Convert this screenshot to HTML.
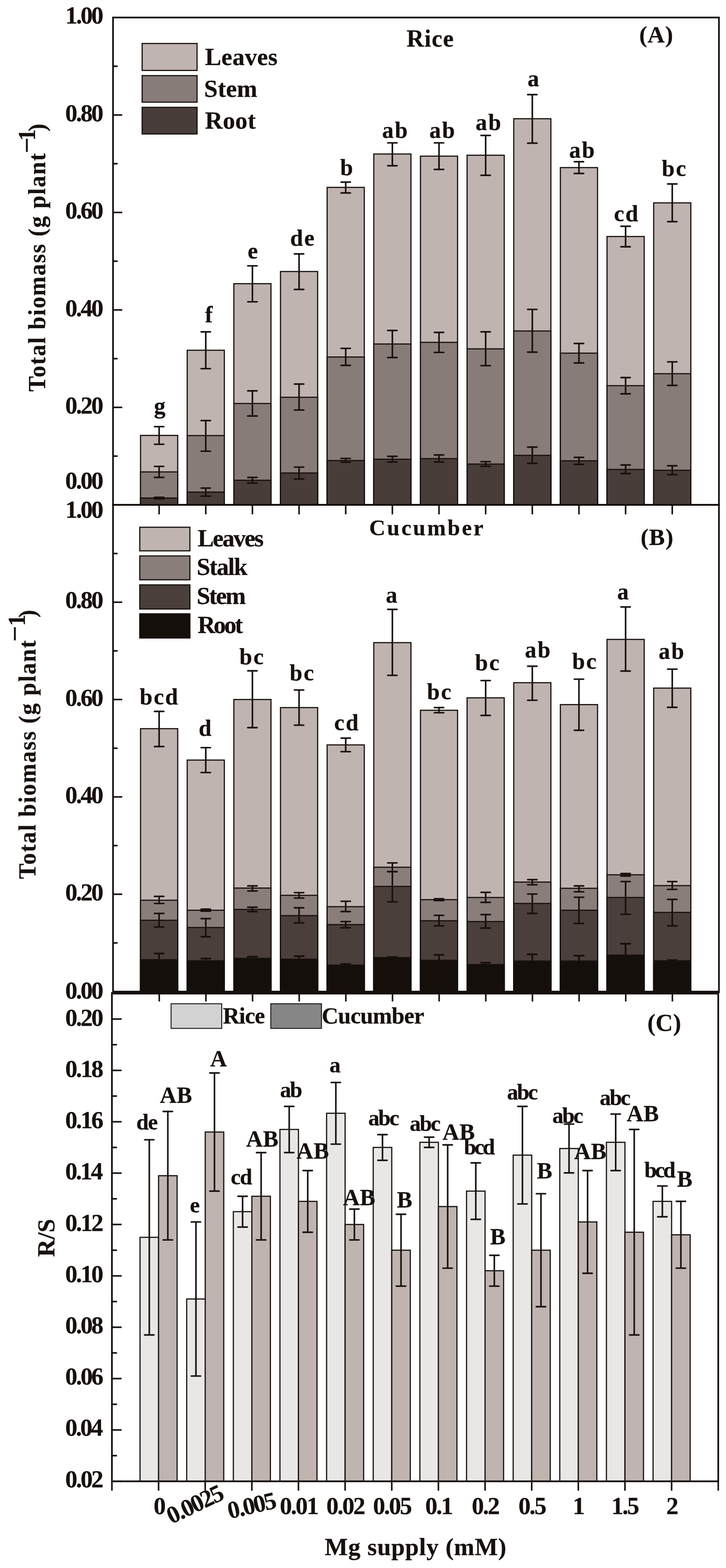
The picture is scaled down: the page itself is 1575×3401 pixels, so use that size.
<!DOCTYPE html>
<html><head><meta charset="utf-8"><title>Mg supply biomass</title>
<style>html,body{margin:0;padding:0;background:#fff;overflow:hidden}svg{display:block}text{font-family:"Liberation Serif", serif;fill:#17100d;white-space:pre;stroke:#17100d;stroke-width:0.3px;stroke-linejoin:round}</style>
</head><body>
<svg width="1575" height="3401" viewBox="0 0 1575 3401">
<rect width="1575" height="3401" fill="#ffffff"/>
<rect x="304.9" y="944.4" width="80.6" height="150.6" fill="#bfb4af" stroke="#17100d" stroke-width="2.5"/>
<rect x="304.9" y="1023.6" width="80.6" height="71.4" fill="#887c78" stroke="#17100d" stroke-width="2.5"/>
<rect x="304.9" y="1080.2" width="80.6" height="14.8" fill="#483d39" stroke="#17100d" stroke-width="2.5"/>
<line x1="345.2" y1="925.4" x2="345.2" y2="963.6" stroke="#17100d" stroke-width="3.4" stroke-linecap="butt"/>
<line x1="335.1" y1="925.4" x2="355.3" y2="925.4" stroke="#17100d" stroke-width="3.4" stroke-linecap="round"/>
<line x1="335.1" y1="963.6" x2="355.3" y2="963.6" stroke="#17100d" stroke-width="3.4" stroke-linecap="round"/>
<line x1="345.2" y1="1011.6" x2="345.2" y2="1035.5" stroke="#17100d" stroke-width="3.4" stroke-linecap="butt"/>
<line x1="335.1" y1="1011.6" x2="355.3" y2="1011.6" stroke="#17100d" stroke-width="3.4" stroke-linecap="round"/>
<line x1="335.1" y1="1035.5" x2="355.3" y2="1035.5" stroke="#17100d" stroke-width="3.4" stroke-linecap="round"/>
<line x1="345.2" y1="1078.6" x2="345.2" y2="1081.8" stroke="#17100d" stroke-width="3.4" stroke-linecap="butt"/>
<line x1="335.1" y1="1078.6" x2="355.3" y2="1078.6" stroke="#17100d" stroke-width="3.4" stroke-linecap="round"/>
<line x1="335.1" y1="1081.8" x2="355.3" y2="1081.8" stroke="#17100d" stroke-width="3.4" stroke-linecap="round"/>
<rect x="406.1" y="759.7" width="80.6" height="335.3" fill="#bfb4af" stroke="#17100d" stroke-width="2.5"/>
<rect x="406.1" y="944.8" width="80.6" height="150.2" fill="#887c78" stroke="#17100d" stroke-width="2.5"/>
<rect x="406.1" y="1067.3" width="80.6" height="27.7" fill="#483d39" stroke="#17100d" stroke-width="2.5"/>
<line x1="446.4" y1="719.8" x2="446.4" y2="799.6" stroke="#17100d" stroke-width="3.4" stroke-linecap="butt"/>
<line x1="436.3" y1="719.8" x2="456.5" y2="719.8" stroke="#17100d" stroke-width="3.4" stroke-linecap="round"/>
<line x1="436.3" y1="799.6" x2="456.5" y2="799.6" stroke="#17100d" stroke-width="3.4" stroke-linecap="round"/>
<line x1="446.4" y1="912.2" x2="446.4" y2="978.6" stroke="#17100d" stroke-width="3.4" stroke-linecap="butt"/>
<line x1="436.3" y1="912.2" x2="456.5" y2="912.2" stroke="#17100d" stroke-width="3.4" stroke-linecap="round"/>
<line x1="436.3" y1="978.6" x2="456.5" y2="978.6" stroke="#17100d" stroke-width="3.4" stroke-linecap="round"/>
<line x1="446.4" y1="1058.6" x2="446.4" y2="1076.1" stroke="#17100d" stroke-width="3.4" stroke-linecap="butt"/>
<line x1="436.3" y1="1058.6" x2="456.5" y2="1058.6" stroke="#17100d" stroke-width="3.4" stroke-linecap="round"/>
<line x1="436.3" y1="1076.1" x2="456.5" y2="1076.1" stroke="#17100d" stroke-width="3.4" stroke-linecap="round"/>
<rect x="507.3" y="615.3" width="80.6" height="479.7" fill="#bfb4af" stroke="#17100d" stroke-width="2.5"/>
<rect x="507.3" y="875.2" width="80.6" height="219.8" fill="#887c78" stroke="#17100d" stroke-width="2.5"/>
<rect x="507.3" y="1041.7" width="80.6" height="53.3" fill="#483d39" stroke="#17100d" stroke-width="2.5"/>
<line x1="547.6" y1="576.6" x2="547.6" y2="654.6" stroke="#17100d" stroke-width="3.4" stroke-linecap="butt"/>
<line x1="537.5" y1="576.6" x2="557.7" y2="576.6" stroke="#17100d" stroke-width="3.4" stroke-linecap="round"/>
<line x1="537.5" y1="654.6" x2="557.7" y2="654.6" stroke="#17100d" stroke-width="3.4" stroke-linecap="round"/>
<line x1="547.6" y1="847.7" x2="547.6" y2="902.3" stroke="#17100d" stroke-width="3.4" stroke-linecap="butt"/>
<line x1="537.5" y1="847.7" x2="557.7" y2="847.7" stroke="#17100d" stroke-width="3.4" stroke-linecap="round"/>
<line x1="537.5" y1="902.3" x2="557.7" y2="902.3" stroke="#17100d" stroke-width="3.4" stroke-linecap="round"/>
<line x1="547.6" y1="1035.5" x2="547.6" y2="1047.8" stroke="#17100d" stroke-width="3.4" stroke-linecap="butt"/>
<line x1="537.5" y1="1035.5" x2="557.7" y2="1035.5" stroke="#17100d" stroke-width="3.4" stroke-linecap="round"/>
<line x1="537.5" y1="1047.8" x2="557.7" y2="1047.8" stroke="#17100d" stroke-width="3.4" stroke-linecap="round"/>
<rect x="608.5" y="588.9" width="80.6" height="506.1" fill="#bfb4af" stroke="#17100d" stroke-width="2.5"/>
<rect x="608.5" y="861.7" width="80.6" height="233.3" fill="#887c78" stroke="#17100d" stroke-width="2.5"/>
<rect x="608.5" y="1025.9" width="80.6" height="69.1" fill="#483d39" stroke="#17100d" stroke-width="2.5"/>
<line x1="648.8" y1="550.8" x2="648.8" y2="627.7" stroke="#17100d" stroke-width="3.4" stroke-linecap="butt"/>
<line x1="638.7" y1="550.8" x2="658.9" y2="550.8" stroke="#17100d" stroke-width="3.4" stroke-linecap="round"/>
<line x1="638.7" y1="627.7" x2="658.9" y2="627.7" stroke="#17100d" stroke-width="3.4" stroke-linecap="round"/>
<line x1="648.8" y1="833.0" x2="648.8" y2="889.4" stroke="#17100d" stroke-width="3.4" stroke-linecap="butt"/>
<line x1="638.7" y1="833.0" x2="658.9" y2="833.0" stroke="#17100d" stroke-width="3.4" stroke-linecap="round"/>
<line x1="638.7" y1="889.4" x2="658.9" y2="889.4" stroke="#17100d" stroke-width="3.4" stroke-linecap="round"/>
<line x1="648.8" y1="1013.1" x2="648.8" y2="1039.0" stroke="#17100d" stroke-width="3.4" stroke-linecap="butt"/>
<line x1="638.7" y1="1013.1" x2="658.9" y2="1013.1" stroke="#17100d" stroke-width="3.4" stroke-linecap="round"/>
<line x1="638.7" y1="1039.0" x2="658.9" y2="1039.0" stroke="#17100d" stroke-width="3.4" stroke-linecap="round"/>
<rect x="709.7" y="406.4" width="80.6" height="688.6" fill="#bfb4af" stroke="#17100d" stroke-width="2.5"/>
<rect x="709.7" y="774.3" width="80.6" height="320.7" fill="#887c78" stroke="#17100d" stroke-width="2.5"/>
<rect x="709.7" y="998.9" width="80.6" height="96.1" fill="#483d39" stroke="#17100d" stroke-width="2.5"/>
<line x1="750.0" y1="395.0" x2="750.0" y2="418.5" stroke="#17100d" stroke-width="3.4" stroke-linecap="butt"/>
<line x1="739.9" y1="395.0" x2="760.1" y2="395.0" stroke="#17100d" stroke-width="3.4" stroke-linecap="round"/>
<line x1="739.9" y1="418.5" x2="760.1" y2="418.5" stroke="#17100d" stroke-width="3.4" stroke-linecap="round"/>
<line x1="750.0" y1="755.6" x2="750.0" y2="792.5" stroke="#17100d" stroke-width="3.4" stroke-linecap="butt"/>
<line x1="739.9" y1="755.6" x2="760.1" y2="755.6" stroke="#17100d" stroke-width="3.4" stroke-linecap="round"/>
<line x1="739.9" y1="792.5" x2="760.1" y2="792.5" stroke="#17100d" stroke-width="3.4" stroke-linecap="round"/>
<line x1="750.0" y1="994.4" x2="750.0" y2="1002.6" stroke="#17100d" stroke-width="3.4" stroke-linecap="butt"/>
<line x1="739.9" y1="994.4" x2="760.1" y2="994.4" stroke="#17100d" stroke-width="3.4" stroke-linecap="round"/>
<line x1="739.9" y1="1002.6" x2="760.1" y2="1002.6" stroke="#17100d" stroke-width="3.4" stroke-linecap="round"/>
<rect x="810.9" y="334.0" width="80.6" height="761.0" fill="#bfb4af" stroke="#17100d" stroke-width="2.5"/>
<rect x="810.9" y="746.1" width="80.6" height="348.9" fill="#887c78" stroke="#17100d" stroke-width="2.5"/>
<rect x="810.9" y="996.0" width="80.6" height="99.0" fill="#483d39" stroke="#17100d" stroke-width="2.5"/>
<line x1="851.2" y1="309.9" x2="851.2" y2="359.5" stroke="#17100d" stroke-width="3.4" stroke-linecap="butt"/>
<line x1="841.1" y1="309.9" x2="861.3" y2="309.9" stroke="#17100d" stroke-width="3.4" stroke-linecap="round"/>
<line x1="841.1" y1="359.5" x2="861.3" y2="359.5" stroke="#17100d" stroke-width="3.4" stroke-linecap="round"/>
<line x1="851.2" y1="716.8" x2="851.2" y2="775.5" stroke="#17100d" stroke-width="3.4" stroke-linecap="butt"/>
<line x1="841.1" y1="716.8" x2="861.3" y2="716.8" stroke="#17100d" stroke-width="3.4" stroke-linecap="round"/>
<line x1="841.1" y1="775.5" x2="861.3" y2="775.5" stroke="#17100d" stroke-width="3.4" stroke-linecap="round"/>
<line x1="851.2" y1="989.7" x2="851.2" y2="1002.0" stroke="#17100d" stroke-width="3.4" stroke-linecap="butt"/>
<line x1="841.1" y1="989.7" x2="861.3" y2="989.7" stroke="#17100d" stroke-width="3.4" stroke-linecap="round"/>
<line x1="841.1" y1="1002.0" x2="861.3" y2="1002.0" stroke="#17100d" stroke-width="3.4" stroke-linecap="round"/>
<rect x="912.1" y="338.7" width="80.6" height="756.3" fill="#bfb4af" stroke="#17100d" stroke-width="2.5"/>
<rect x="912.1" y="742.6" width="80.6" height="352.4" fill="#887c78" stroke="#17100d" stroke-width="2.5"/>
<rect x="912.1" y="994.8" width="80.6" height="100.2" fill="#483d39" stroke="#17100d" stroke-width="2.5"/>
<line x1="952.4" y1="309.9" x2="952.4" y2="367.5" stroke="#17100d" stroke-width="3.4" stroke-linecap="butt"/>
<line x1="942.3" y1="309.9" x2="962.5" y2="309.9" stroke="#17100d" stroke-width="3.4" stroke-linecap="round"/>
<line x1="942.3" y1="367.5" x2="962.5" y2="367.5" stroke="#17100d" stroke-width="3.4" stroke-linecap="round"/>
<line x1="952.4" y1="721.0" x2="952.4" y2="764.4" stroke="#17100d" stroke-width="3.4" stroke-linecap="butt"/>
<line x1="942.3" y1="721.0" x2="962.5" y2="721.0" stroke="#17100d" stroke-width="3.4" stroke-linecap="round"/>
<line x1="942.3" y1="764.4" x2="962.5" y2="764.4" stroke="#17100d" stroke-width="3.4" stroke-linecap="round"/>
<line x1="952.4" y1="986.7" x2="952.4" y2="1002.0" stroke="#17100d" stroke-width="3.4" stroke-linecap="butt"/>
<line x1="942.3" y1="986.7" x2="962.5" y2="986.7" stroke="#17100d" stroke-width="3.4" stroke-linecap="round"/>
<line x1="942.3" y1="1002.0" x2="962.5" y2="1002.0" stroke="#17100d" stroke-width="3.4" stroke-linecap="round"/>
<rect x="1013.3" y="336.7" width="80.6" height="758.3" fill="#bfb4af" stroke="#17100d" stroke-width="2.5"/>
<rect x="1013.3" y="756.7" width="80.6" height="338.3" fill="#887c78" stroke="#17100d" stroke-width="2.5"/>
<rect x="1013.3" y="1006.5" width="80.6" height="88.5" fill="#483d39" stroke="#17100d" stroke-width="2.5"/>
<line x1="1053.6" y1="293.8" x2="1053.6" y2="380.3" stroke="#17100d" stroke-width="3.4" stroke-linecap="butt"/>
<line x1="1043.5" y1="293.8" x2="1063.7" y2="293.8" stroke="#17100d" stroke-width="3.4" stroke-linecap="round"/>
<line x1="1043.5" y1="380.3" x2="1063.7" y2="380.3" stroke="#17100d" stroke-width="3.4" stroke-linecap="round"/>
<line x1="1053.6" y1="719.8" x2="1053.6" y2="793.1" stroke="#17100d" stroke-width="3.4" stroke-linecap="butt"/>
<line x1="1043.5" y1="719.8" x2="1063.7" y2="719.8" stroke="#17100d" stroke-width="3.4" stroke-linecap="round"/>
<line x1="1043.5" y1="793.1" x2="1063.7" y2="793.1" stroke="#17100d" stroke-width="3.4" stroke-linecap="round"/>
<line x1="1053.6" y1="1001.4" x2="1053.6" y2="1011.4" stroke="#17100d" stroke-width="3.4" stroke-linecap="butt"/>
<line x1="1043.5" y1="1001.4" x2="1063.7" y2="1001.4" stroke="#17100d" stroke-width="3.4" stroke-linecap="round"/>
<line x1="1043.5" y1="1011.4" x2="1063.7" y2="1011.4" stroke="#17100d" stroke-width="3.4" stroke-linecap="round"/>
<rect x="1114.5" y="257.5" width="80.6" height="837.5" fill="#bfb4af" stroke="#17100d" stroke-width="2.5"/>
<rect x="1114.5" y="717.9" width="80.6" height="377.1" fill="#887c78" stroke="#17100d" stroke-width="2.5"/>
<rect x="1114.5" y="987.7" width="80.6" height="107.3" fill="#483d39" stroke="#17100d" stroke-width="2.5"/>
<line x1="1154.8" y1="205.2" x2="1154.8" y2="310.5" stroke="#17100d" stroke-width="3.4" stroke-linecap="butt"/>
<line x1="1144.7" y1="205.2" x2="1164.9" y2="205.2" stroke="#17100d" stroke-width="3.4" stroke-linecap="round"/>
<line x1="1144.7" y1="310.5" x2="1164.9" y2="310.5" stroke="#17100d" stroke-width="3.4" stroke-linecap="round"/>
<line x1="1154.8" y1="671.1" x2="1154.8" y2="763.8" stroke="#17100d" stroke-width="3.4" stroke-linecap="butt"/>
<line x1="1144.7" y1="671.1" x2="1164.9" y2="671.1" stroke="#17100d" stroke-width="3.4" stroke-linecap="round"/>
<line x1="1144.7" y1="763.8" x2="1164.9" y2="763.8" stroke="#17100d" stroke-width="3.4" stroke-linecap="round"/>
<line x1="1154.8" y1="969.7" x2="1154.8" y2="1005.0" stroke="#17100d" stroke-width="3.4" stroke-linecap="butt"/>
<line x1="1144.7" y1="969.7" x2="1164.9" y2="969.7" stroke="#17100d" stroke-width="3.4" stroke-linecap="round"/>
<line x1="1144.7" y1="1005.0" x2="1164.9" y2="1005.0" stroke="#17100d" stroke-width="3.4" stroke-linecap="round"/>
<rect x="1215.7" y="363.5" width="80.6" height="731.5" fill="#bfb4af" stroke="#17100d" stroke-width="2.5"/>
<rect x="1215.7" y="766.0" width="80.6" height="329.0" fill="#887c78" stroke="#17100d" stroke-width="2.5"/>
<rect x="1215.7" y="999.5" width="80.6" height="95.5" fill="#483d39" stroke="#17100d" stroke-width="2.5"/>
<line x1="1256.0" y1="350.8" x2="1256.0" y2="376.3" stroke="#17100d" stroke-width="3.4" stroke-linecap="butt"/>
<line x1="1245.9" y1="350.8" x2="1266.1" y2="350.8" stroke="#17100d" stroke-width="3.4" stroke-linecap="round"/>
<line x1="1245.9" y1="376.3" x2="1266.1" y2="376.3" stroke="#17100d" stroke-width="3.4" stroke-linecap="round"/>
<line x1="1256.0" y1="745.0" x2="1256.0" y2="787.3" stroke="#17100d" stroke-width="3.4" stroke-linecap="butt"/>
<line x1="1245.9" y1="745.0" x2="1266.1" y2="745.0" stroke="#17100d" stroke-width="3.4" stroke-linecap="round"/>
<line x1="1245.9" y1="787.3" x2="1266.1" y2="787.3" stroke="#17100d" stroke-width="3.4" stroke-linecap="round"/>
<line x1="1256.0" y1="992.0" x2="1256.0" y2="1007.3" stroke="#17100d" stroke-width="3.4" stroke-linecap="butt"/>
<line x1="1245.9" y1="992.0" x2="1266.1" y2="992.0" stroke="#17100d" stroke-width="3.4" stroke-linecap="round"/>
<line x1="1245.9" y1="1007.3" x2="1266.1" y2="1007.3" stroke="#17100d" stroke-width="3.4" stroke-linecap="round"/>
<rect x="1316.9" y="513.0" width="80.6" height="582.0" fill="#bfb4af" stroke="#17100d" stroke-width="2.5"/>
<rect x="1316.9" y="836.5" width="80.6" height="258.5" fill="#887c78" stroke="#17100d" stroke-width="2.5"/>
<rect x="1316.9" y="1018.2" width="80.6" height="76.8" fill="#483d39" stroke="#17100d" stroke-width="2.5"/>
<line x1="1357.2" y1="490.7" x2="1357.2" y2="535.3" stroke="#17100d" stroke-width="3.4" stroke-linecap="butt"/>
<line x1="1347.1" y1="490.7" x2="1367.3" y2="490.7" stroke="#17100d" stroke-width="3.4" stroke-linecap="round"/>
<line x1="1347.1" y1="535.3" x2="1367.3" y2="535.3" stroke="#17100d" stroke-width="3.4" stroke-linecap="round"/>
<line x1="1357.2" y1="819.0" x2="1357.2" y2="854.2" stroke="#17100d" stroke-width="3.4" stroke-linecap="butt"/>
<line x1="1347.1" y1="819.0" x2="1367.3" y2="819.0" stroke="#17100d" stroke-width="3.4" stroke-linecap="round"/>
<line x1="1347.1" y1="854.2" x2="1367.3" y2="854.2" stroke="#17100d" stroke-width="3.4" stroke-linecap="round"/>
<line x1="1357.2" y1="1008.5" x2="1357.2" y2="1027.2" stroke="#17100d" stroke-width="3.4" stroke-linecap="butt"/>
<line x1="1347.1" y1="1008.5" x2="1367.3" y2="1008.5" stroke="#17100d" stroke-width="3.4" stroke-linecap="round"/>
<line x1="1347.1" y1="1027.2" x2="1367.3" y2="1027.2" stroke="#17100d" stroke-width="3.4" stroke-linecap="round"/>
<rect x="1418.1" y="440.0" width="80.6" height="655.0" fill="#bfb4af" stroke="#17100d" stroke-width="2.5"/>
<rect x="1418.1" y="810.6" width="80.6" height="284.4" fill="#887c78" stroke="#17100d" stroke-width="2.5"/>
<rect x="1418.1" y="1020.0" width="80.6" height="75.0" fill="#483d39" stroke="#17100d" stroke-width="2.5"/>
<line x1="1458.4" y1="399.0" x2="1458.4" y2="480.7" stroke="#17100d" stroke-width="3.4" stroke-linecap="butt"/>
<line x1="1448.3" y1="399.0" x2="1468.5" y2="399.0" stroke="#17100d" stroke-width="3.4" stroke-linecap="round"/>
<line x1="1448.3" y1="480.7" x2="1468.5" y2="480.7" stroke="#17100d" stroke-width="3.4" stroke-linecap="round"/>
<line x1="1458.4" y1="784.9" x2="1458.4" y2="836.0" stroke="#17100d" stroke-width="3.4" stroke-linecap="butt"/>
<line x1="1448.3" y1="784.9" x2="1468.5" y2="784.9" stroke="#17100d" stroke-width="3.4" stroke-linecap="round"/>
<line x1="1448.3" y1="836.0" x2="1468.5" y2="836.0" stroke="#17100d" stroke-width="3.4" stroke-linecap="round"/>
<line x1="1458.4" y1="1010.2" x2="1458.4" y2="1029.6" stroke="#17100d" stroke-width="3.4" stroke-linecap="butt"/>
<line x1="1448.3" y1="1010.2" x2="1468.5" y2="1010.2" stroke="#17100d" stroke-width="3.4" stroke-linecap="round"/>
<line x1="1448.3" y1="1029.6" x2="1468.5" y2="1029.6" stroke="#17100d" stroke-width="3.4" stroke-linecap="round"/>
<rect x="304.9" y="1580.5" width="80.6" height="570.3" fill="#bfb4af" stroke="#17100d" stroke-width="2.5"/>
<rect x="304.9" y="1952.6" width="80.6" height="198.2" fill="#8a7e7a" stroke="#17100d" stroke-width="2.5"/>
<rect x="304.9" y="1996.0" width="80.6" height="154.8" fill="#4a3f3b" stroke="#17100d" stroke-width="2.5"/>
<line x1="345.2" y1="2068.1" x2="345.2" y2="2083.6" stroke="#17100d" stroke-width="3.4" stroke-linecap="butt"/>
<line x1="335.1" y1="2068.1" x2="355.3" y2="2068.1" stroke="#17100d" stroke-width="3.4" stroke-linecap="round"/>
<rect x="304.9" y="2081.6" width="80.6" height="69.2" fill="#150f0c" stroke="#17100d" stroke-width="2.5"/>
<line x1="345.2" y1="2068.1" x2="345.2" y2="2081.6" stroke="#17100d" stroke-width="3.4" stroke-linecap="butt"/>
<line x1="335.1" y1="2068.1" x2="355.3" y2="2068.1" stroke="#17100d" stroke-width="3.4" stroke-linecap="round"/>
<line x1="345.2" y1="1543.0" x2="345.2" y2="1619.2" stroke="#17100d" stroke-width="3.4" stroke-linecap="butt"/>
<line x1="335.1" y1="1543.0" x2="355.3" y2="1543.0" stroke="#17100d" stroke-width="3.4" stroke-linecap="round"/>
<line x1="335.1" y1="1619.2" x2="355.3" y2="1619.2" stroke="#17100d" stroke-width="3.4" stroke-linecap="round"/>
<line x1="345.2" y1="1944.3" x2="345.2" y2="1959.6" stroke="#17100d" stroke-width="3.4" stroke-linecap="butt"/>
<line x1="335.1" y1="1944.3" x2="355.3" y2="1944.3" stroke="#17100d" stroke-width="3.4" stroke-linecap="round"/>
<line x1="335.1" y1="1959.6" x2="355.3" y2="1959.6" stroke="#17100d" stroke-width="3.4" stroke-linecap="round"/>
<line x1="345.2" y1="1981.3" x2="345.2" y2="2010.6" stroke="#17100d" stroke-width="3.4" stroke-linecap="butt"/>
<line x1="335.1" y1="1981.3" x2="355.3" y2="1981.3" stroke="#17100d" stroke-width="3.4" stroke-linecap="round"/>
<line x1="335.1" y1="2010.6" x2="355.3" y2="2010.6" stroke="#17100d" stroke-width="3.4" stroke-linecap="round"/>
<rect x="406.1" y="1648.6" width="80.6" height="502.2" fill="#bfb4af" stroke="#17100d" stroke-width="2.5"/>
<rect x="406.1" y="1974.3" width="80.6" height="176.5" fill="#8a7e7a" stroke="#17100d" stroke-width="2.5"/>
<rect x="406.1" y="2011.8" width="80.6" height="139.0" fill="#4a3f3b" stroke="#17100d" stroke-width="2.5"/>
<line x1="446.4" y1="2079.3" x2="446.4" y2="2086.0" stroke="#17100d" stroke-width="3.4" stroke-linecap="butt"/>
<line x1="436.3" y1="2079.3" x2="456.5" y2="2079.3" stroke="#17100d" stroke-width="3.4" stroke-linecap="round"/>
<rect x="406.1" y="2084.0" width="80.6" height="66.8" fill="#150f0c" stroke="#17100d" stroke-width="2.5"/>
<line x1="446.4" y1="2079.3" x2="446.4" y2="2084.0" stroke="#17100d" stroke-width="3.4" stroke-linecap="butt"/>
<line x1="436.3" y1="2079.3" x2="456.5" y2="2079.3" stroke="#17100d" stroke-width="3.4" stroke-linecap="round"/>
<line x1="446.4" y1="1621.6" x2="446.4" y2="1675.6" stroke="#17100d" stroke-width="3.4" stroke-linecap="butt"/>
<line x1="436.3" y1="1621.6" x2="456.5" y2="1621.6" stroke="#17100d" stroke-width="3.4" stroke-linecap="round"/>
<line x1="436.3" y1="1675.6" x2="456.5" y2="1675.6" stroke="#17100d" stroke-width="3.4" stroke-linecap="round"/>
<line x1="446.4" y1="1972.0" x2="446.4" y2="1976.4" stroke="#17100d" stroke-width="3.4" stroke-linecap="butt"/>
<line x1="436.3" y1="1972.0" x2="456.5" y2="1972.0" stroke="#17100d" stroke-width="3.4" stroke-linecap="round"/>
<line x1="436.3" y1="1976.4" x2="456.5" y2="1976.4" stroke="#17100d" stroke-width="3.4" stroke-linecap="round"/>
<line x1="446.4" y1="1992.5" x2="446.4" y2="2031.8" stroke="#17100d" stroke-width="3.4" stroke-linecap="butt"/>
<line x1="436.3" y1="1992.5" x2="456.5" y2="1992.5" stroke="#17100d" stroke-width="3.4" stroke-linecap="round"/>
<line x1="436.3" y1="2031.8" x2="456.5" y2="2031.8" stroke="#17100d" stroke-width="3.4" stroke-linecap="round"/>
<rect x="507.3" y="1517.2" width="80.6" height="633.6" fill="#bfb4af" stroke="#17100d" stroke-width="2.5"/>
<rect x="507.3" y="1926.2" width="80.6" height="224.6" fill="#8a7e7a" stroke="#17100d" stroke-width="2.5"/>
<rect x="507.3" y="1972.5" width="80.6" height="178.3" fill="#4a3f3b" stroke="#17100d" stroke-width="2.5"/>
<line x1="547.6" y1="2075.2" x2="547.6" y2="2080.7" stroke="#17100d" stroke-width="3.4" stroke-linecap="butt"/>
<line x1="537.5" y1="2075.2" x2="557.7" y2="2075.2" stroke="#17100d" stroke-width="3.4" stroke-linecap="round"/>
<rect x="507.3" y="2078.7" width="80.6" height="72.1" fill="#150f0c" stroke="#17100d" stroke-width="2.5"/>
<line x1="547.6" y1="2075.2" x2="547.6" y2="2078.7" stroke="#17100d" stroke-width="3.4" stroke-linecap="butt"/>
<line x1="537.5" y1="2075.2" x2="557.7" y2="2075.2" stroke="#17100d" stroke-width="3.4" stroke-linecap="round"/>
<line x1="547.6" y1="1455.0" x2="547.6" y2="1578.2" stroke="#17100d" stroke-width="3.4" stroke-linecap="butt"/>
<line x1="537.5" y1="1455.0" x2="557.7" y2="1455.0" stroke="#17100d" stroke-width="3.4" stroke-linecap="round"/>
<line x1="537.5" y1="1578.2" x2="557.7" y2="1578.2" stroke="#17100d" stroke-width="3.4" stroke-linecap="round"/>
<line x1="547.6" y1="1921.5" x2="547.6" y2="1932.6" stroke="#17100d" stroke-width="3.4" stroke-linecap="butt"/>
<line x1="537.5" y1="1921.5" x2="557.7" y2="1921.5" stroke="#17100d" stroke-width="3.4" stroke-linecap="round"/>
<line x1="537.5" y1="1932.6" x2="557.7" y2="1932.6" stroke="#17100d" stroke-width="3.4" stroke-linecap="round"/>
<line x1="547.6" y1="1967.8" x2="547.6" y2="1977.2" stroke="#17100d" stroke-width="3.4" stroke-linecap="butt"/>
<line x1="537.5" y1="1967.8" x2="557.7" y2="1967.8" stroke="#17100d" stroke-width="3.4" stroke-linecap="round"/>
<line x1="537.5" y1="1977.2" x2="557.7" y2="1977.2" stroke="#17100d" stroke-width="3.4" stroke-linecap="round"/>
<rect x="608.5" y="1534.8" width="80.6" height="616.0" fill="#bfb4af" stroke="#17100d" stroke-width="2.5"/>
<rect x="608.5" y="1942.0" width="80.6" height="208.8" fill="#8a7e7a" stroke="#17100d" stroke-width="2.5"/>
<rect x="608.5" y="1986.0" width="80.6" height="164.8" fill="#4a3f3b" stroke="#17100d" stroke-width="2.5"/>
<line x1="648.8" y1="2074.0" x2="648.8" y2="2082.5" stroke="#17100d" stroke-width="3.4" stroke-linecap="butt"/>
<line x1="638.7" y1="2074.0" x2="658.9" y2="2074.0" stroke="#17100d" stroke-width="3.4" stroke-linecap="round"/>
<rect x="608.5" y="2080.5" width="80.6" height="70.3" fill="#150f0c" stroke="#17100d" stroke-width="2.5"/>
<line x1="648.8" y1="2074.0" x2="648.8" y2="2080.5" stroke="#17100d" stroke-width="3.4" stroke-linecap="butt"/>
<line x1="638.7" y1="2074.0" x2="658.9" y2="2074.0" stroke="#17100d" stroke-width="3.4" stroke-linecap="round"/>
<line x1="648.8" y1="1496.6" x2="648.8" y2="1572.9" stroke="#17100d" stroke-width="3.4" stroke-linecap="butt"/>
<line x1="638.7" y1="1496.6" x2="658.9" y2="1496.6" stroke="#17100d" stroke-width="3.4" stroke-linecap="round"/>
<line x1="638.7" y1="1572.9" x2="658.9" y2="1572.9" stroke="#17100d" stroke-width="3.4" stroke-linecap="round"/>
<line x1="648.8" y1="1936.1" x2="648.8" y2="1947.9" stroke="#17100d" stroke-width="3.4" stroke-linecap="butt"/>
<line x1="638.7" y1="1936.1" x2="658.9" y2="1936.1" stroke="#17100d" stroke-width="3.4" stroke-linecap="round"/>
<line x1="638.7" y1="1947.9" x2="658.9" y2="1947.9" stroke="#17100d" stroke-width="3.4" stroke-linecap="round"/>
<line x1="648.8" y1="1969.0" x2="648.8" y2="2001.8" stroke="#17100d" stroke-width="3.4" stroke-linecap="butt"/>
<line x1="638.7" y1="1969.0" x2="658.9" y2="1969.0" stroke="#17100d" stroke-width="3.4" stroke-linecap="round"/>
<line x1="638.7" y1="2001.8" x2="658.9" y2="2001.8" stroke="#17100d" stroke-width="3.4" stroke-linecap="round"/>
<rect x="709.7" y="1615.7" width="80.6" height="535.1" fill="#bfb4af" stroke="#17100d" stroke-width="2.5"/>
<rect x="709.7" y="1966.6" width="80.6" height="184.2" fill="#8a7e7a" stroke="#17100d" stroke-width="2.5"/>
<rect x="709.7" y="2005.4" width="80.6" height="145.4" fill="#4a3f3b" stroke="#17100d" stroke-width="2.5"/>
<line x1="750.0" y1="2091.0" x2="750.0" y2="2095.4" stroke="#17100d" stroke-width="3.4" stroke-linecap="butt"/>
<line x1="739.9" y1="2091.0" x2="760.1" y2="2091.0" stroke="#17100d" stroke-width="3.4" stroke-linecap="round"/>
<rect x="709.7" y="2093.4" width="80.6" height="57.4" fill="#150f0c" stroke="#17100d" stroke-width="2.5"/>
<line x1="750.0" y1="2091.0" x2="750.0" y2="2093.4" stroke="#17100d" stroke-width="3.4" stroke-linecap="butt"/>
<line x1="739.9" y1="2091.0" x2="760.1" y2="2091.0" stroke="#17100d" stroke-width="3.4" stroke-linecap="round"/>
<line x1="750.0" y1="1601.0" x2="750.0" y2="1630.4" stroke="#17100d" stroke-width="3.4" stroke-linecap="butt"/>
<line x1="739.9" y1="1601.0" x2="760.1" y2="1601.0" stroke="#17100d" stroke-width="3.4" stroke-linecap="round"/>
<line x1="739.9" y1="1630.4" x2="760.1" y2="1630.4" stroke="#17100d" stroke-width="3.4" stroke-linecap="round"/>
<line x1="750.0" y1="1954.9" x2="750.0" y2="1977.2" stroke="#17100d" stroke-width="3.4" stroke-linecap="butt"/>
<line x1="739.9" y1="1954.9" x2="760.1" y2="1954.9" stroke="#17100d" stroke-width="3.4" stroke-linecap="round"/>
<line x1="739.9" y1="1977.2" x2="760.1" y2="1977.2" stroke="#17100d" stroke-width="3.4" stroke-linecap="round"/>
<line x1="750.0" y1="1998.9" x2="750.0" y2="2012.4" stroke="#17100d" stroke-width="3.4" stroke-linecap="butt"/>
<line x1="739.9" y1="1998.9" x2="760.1" y2="1998.9" stroke="#17100d" stroke-width="3.4" stroke-linecap="round"/>
<line x1="739.9" y1="2012.4" x2="760.1" y2="2012.4" stroke="#17100d" stroke-width="3.4" stroke-linecap="round"/>
<rect x="810.9" y="1393.9" width="80.6" height="756.9" fill="#bfb4af" stroke="#17100d" stroke-width="2.5"/>
<rect x="810.9" y="1881.0" width="80.6" height="269.8" fill="#8a7e7a" stroke="#17100d" stroke-width="2.5"/>
<rect x="810.9" y="1922.6" width="80.6" height="228.2" fill="#4a3f3b" stroke="#17100d" stroke-width="2.5"/>
<line x1="851.2" y1="2075.8" x2="851.2" y2="2079.0" stroke="#17100d" stroke-width="3.4" stroke-linecap="butt"/>
<line x1="841.1" y1="2075.8" x2="861.3" y2="2075.8" stroke="#17100d" stroke-width="3.4" stroke-linecap="round"/>
<rect x="810.9" y="2077.0" width="80.6" height="73.8" fill="#150f0c" stroke="#17100d" stroke-width="2.5"/>
<line x1="851.2" y1="2075.8" x2="851.2" y2="2077.0" stroke="#17100d" stroke-width="3.4" stroke-linecap="butt"/>
<line x1="841.1" y1="2075.8" x2="861.3" y2="2075.8" stroke="#17100d" stroke-width="3.4" stroke-linecap="round"/>
<line x1="851.2" y1="1321.8" x2="851.2" y2="1464.9" stroke="#17100d" stroke-width="3.4" stroke-linecap="butt"/>
<line x1="841.1" y1="1321.8" x2="861.3" y2="1321.8" stroke="#17100d" stroke-width="3.4" stroke-linecap="round"/>
<line x1="841.1" y1="1464.9" x2="861.3" y2="1464.9" stroke="#17100d" stroke-width="3.4" stroke-linecap="round"/>
<line x1="851.2" y1="1871.6" x2="851.2" y2="1890.9" stroke="#17100d" stroke-width="3.4" stroke-linecap="butt"/>
<line x1="841.1" y1="1871.6" x2="861.3" y2="1871.6" stroke="#17100d" stroke-width="3.4" stroke-linecap="round"/>
<line x1="841.1" y1="1890.9" x2="861.3" y2="1890.9" stroke="#17100d" stroke-width="3.4" stroke-linecap="round"/>
<line x1="851.2" y1="1890.4" x2="851.2" y2="1956.1" stroke="#17100d" stroke-width="3.4" stroke-linecap="butt"/>
<line x1="841.1" y1="1890.4" x2="861.3" y2="1890.4" stroke="#17100d" stroke-width="3.4" stroke-linecap="round"/>
<line x1="841.1" y1="1956.1" x2="861.3" y2="1956.1" stroke="#17100d" stroke-width="3.4" stroke-linecap="round"/>
<rect x="912.1" y="1540.6" width="80.6" height="610.2" fill="#bfb4af" stroke="#17100d" stroke-width="2.5"/>
<rect x="912.1" y="1951.4" width="80.6" height="199.4" fill="#8a7e7a" stroke="#17100d" stroke-width="2.5"/>
<rect x="912.1" y="1997.1" width="80.6" height="153.7" fill="#4a3f3b" stroke="#17100d" stroke-width="2.5"/>
<line x1="952.4" y1="2071.1" x2="952.4" y2="2084.8" stroke="#17100d" stroke-width="3.4" stroke-linecap="butt"/>
<line x1="942.3" y1="2071.1" x2="962.5" y2="2071.1" stroke="#17100d" stroke-width="3.4" stroke-linecap="round"/>
<rect x="912.1" y="2082.8" width="80.6" height="68.0" fill="#150f0c" stroke="#17100d" stroke-width="2.5"/>
<line x1="952.4" y1="2071.1" x2="952.4" y2="2082.8" stroke="#17100d" stroke-width="3.4" stroke-linecap="butt"/>
<line x1="942.3" y1="2071.1" x2="962.5" y2="2071.1" stroke="#17100d" stroke-width="3.4" stroke-linecap="round"/>
<line x1="952.4" y1="1534.8" x2="952.4" y2="1545.9" stroke="#17100d" stroke-width="3.4" stroke-linecap="butt"/>
<line x1="942.3" y1="1534.8" x2="962.5" y2="1534.8" stroke="#17100d" stroke-width="3.4" stroke-linecap="round"/>
<line x1="942.3" y1="1545.9" x2="962.5" y2="1545.9" stroke="#17100d" stroke-width="3.4" stroke-linecap="round"/>
<line x1="952.4" y1="1949.4" x2="952.4" y2="1953.4" stroke="#17100d" stroke-width="3.4" stroke-linecap="butt"/>
<line x1="942.3" y1="1949.4" x2="962.5" y2="1949.4" stroke="#17100d" stroke-width="3.4" stroke-linecap="round"/>
<line x1="942.3" y1="1953.4" x2="962.5" y2="1953.4" stroke="#17100d" stroke-width="3.4" stroke-linecap="round"/>
<line x1="952.4" y1="1985.4" x2="952.4" y2="2008.3" stroke="#17100d" stroke-width="3.4" stroke-linecap="butt"/>
<line x1="942.3" y1="1985.4" x2="962.5" y2="1985.4" stroke="#17100d" stroke-width="3.4" stroke-linecap="round"/>
<line x1="942.3" y1="2008.3" x2="962.5" y2="2008.3" stroke="#17100d" stroke-width="3.4" stroke-linecap="round"/>
<rect x="1013.3" y="1513.6" width="80.6" height="637.2" fill="#bfb4af" stroke="#17100d" stroke-width="2.5"/>
<rect x="1013.3" y="1946.7" width="80.6" height="204.1" fill="#8a7e7a" stroke="#17100d" stroke-width="2.5"/>
<rect x="1013.3" y="1998.9" width="80.6" height="151.9" fill="#4a3f3b" stroke="#17100d" stroke-width="2.5"/>
<line x1="1053.6" y1="2088.1" x2="1053.6" y2="2094.2" stroke="#17100d" stroke-width="3.4" stroke-linecap="butt"/>
<line x1="1043.5" y1="2088.1" x2="1063.7" y2="2088.1" stroke="#17100d" stroke-width="3.4" stroke-linecap="round"/>
<rect x="1013.3" y="2092.2" width="80.6" height="58.6" fill="#150f0c" stroke="#17100d" stroke-width="2.5"/>
<line x1="1053.6" y1="2088.1" x2="1053.6" y2="2092.2" stroke="#17100d" stroke-width="3.4" stroke-linecap="butt"/>
<line x1="1043.5" y1="2088.1" x2="1063.7" y2="2088.1" stroke="#17100d" stroke-width="3.4" stroke-linecap="round"/>
<line x1="1053.6" y1="1476.1" x2="1053.6" y2="1551.8" stroke="#17100d" stroke-width="3.4" stroke-linecap="butt"/>
<line x1="1043.5" y1="1476.1" x2="1063.7" y2="1476.1" stroke="#17100d" stroke-width="3.4" stroke-linecap="round"/>
<line x1="1043.5" y1="1551.8" x2="1063.7" y2="1551.8" stroke="#17100d" stroke-width="3.4" stroke-linecap="round"/>
<line x1="1053.6" y1="1935.5" x2="1053.6" y2="1957.2" stroke="#17100d" stroke-width="3.4" stroke-linecap="butt"/>
<line x1="1043.5" y1="1935.5" x2="1063.7" y2="1935.5" stroke="#17100d" stroke-width="3.4" stroke-linecap="round"/>
<line x1="1043.5" y1="1957.2" x2="1063.7" y2="1957.2" stroke="#17100d" stroke-width="3.4" stroke-linecap="round"/>
<line x1="1053.6" y1="1983.7" x2="1053.6" y2="2013.0" stroke="#17100d" stroke-width="3.4" stroke-linecap="butt"/>
<line x1="1043.5" y1="1983.7" x2="1063.7" y2="1983.7" stroke="#17100d" stroke-width="3.4" stroke-linecap="round"/>
<line x1="1043.5" y1="2013.0" x2="1063.7" y2="2013.0" stroke="#17100d" stroke-width="3.4" stroke-linecap="round"/>
<rect x="1114.5" y="1480.8" width="80.6" height="670.0" fill="#bfb4af" stroke="#17100d" stroke-width="2.5"/>
<rect x="1114.5" y="1913.2" width="80.6" height="237.6" fill="#8a7e7a" stroke="#17100d" stroke-width="2.5"/>
<rect x="1114.5" y="1959.6" width="80.6" height="191.2" fill="#4a3f3b" stroke="#17100d" stroke-width="2.5"/>
<line x1="1154.8" y1="2069.9" x2="1154.8" y2="2086.6" stroke="#17100d" stroke-width="3.4" stroke-linecap="butt"/>
<line x1="1144.7" y1="2069.9" x2="1164.9" y2="2069.9" stroke="#17100d" stroke-width="3.4" stroke-linecap="round"/>
<rect x="1114.5" y="2084.6" width="80.6" height="66.2" fill="#150f0c" stroke="#17100d" stroke-width="2.5"/>
<line x1="1154.8" y1="2069.9" x2="1154.8" y2="2084.6" stroke="#17100d" stroke-width="3.4" stroke-linecap="butt"/>
<line x1="1144.7" y1="2069.9" x2="1164.9" y2="2069.9" stroke="#17100d" stroke-width="3.4" stroke-linecap="round"/>
<line x1="1154.8" y1="1445.0" x2="1154.8" y2="1518.9" stroke="#17100d" stroke-width="3.4" stroke-linecap="butt"/>
<line x1="1144.7" y1="1445.0" x2="1164.9" y2="1445.0" stroke="#17100d" stroke-width="3.4" stroke-linecap="round"/>
<line x1="1144.7" y1="1518.9" x2="1164.9" y2="1518.9" stroke="#17100d" stroke-width="3.4" stroke-linecap="round"/>
<line x1="1154.8" y1="1908.0" x2="1154.8" y2="1919.1" stroke="#17100d" stroke-width="3.4" stroke-linecap="butt"/>
<line x1="1144.7" y1="1908.0" x2="1164.9" y2="1908.0" stroke="#17100d" stroke-width="3.4" stroke-linecap="round"/>
<line x1="1144.7" y1="1919.1" x2="1164.9" y2="1919.1" stroke="#17100d" stroke-width="3.4" stroke-linecap="round"/>
<line x1="1154.8" y1="1939.1" x2="1154.8" y2="1981.3" stroke="#17100d" stroke-width="3.4" stroke-linecap="butt"/>
<line x1="1144.7" y1="1939.1" x2="1164.9" y2="1939.1" stroke="#17100d" stroke-width="3.4" stroke-linecap="round"/>
<line x1="1144.7" y1="1981.3" x2="1164.9" y2="1981.3" stroke="#17100d" stroke-width="3.4" stroke-linecap="round"/>
<rect x="1215.7" y="1528.3" width="80.6" height="622.5" fill="#bfb4af" stroke="#17100d" stroke-width="2.5"/>
<rect x="1215.7" y="1926.7" width="80.6" height="224.1" fill="#8a7e7a" stroke="#17100d" stroke-width="2.5"/>
<rect x="1215.7" y="1974.3" width="80.6" height="176.5" fill="#4a3f3b" stroke="#17100d" stroke-width="2.5"/>
<line x1="1256.0" y1="2072.8" x2="1256.0" y2="2086.6" stroke="#17100d" stroke-width="3.4" stroke-linecap="butt"/>
<line x1="1245.9" y1="2072.8" x2="1266.1" y2="2072.8" stroke="#17100d" stroke-width="3.4" stroke-linecap="round"/>
<rect x="1215.7" y="2084.6" width="80.6" height="66.2" fill="#150f0c" stroke="#17100d" stroke-width="2.5"/>
<line x1="1256.0" y1="2072.8" x2="1256.0" y2="2084.6" stroke="#17100d" stroke-width="3.4" stroke-linecap="butt"/>
<line x1="1245.9" y1="2072.8" x2="1266.1" y2="2072.8" stroke="#17100d" stroke-width="3.4" stroke-linecap="round"/>
<line x1="1256.0" y1="1473.1" x2="1256.0" y2="1584.0" stroke="#17100d" stroke-width="3.4" stroke-linecap="butt"/>
<line x1="1245.9" y1="1473.1" x2="1266.1" y2="1473.1" stroke="#17100d" stroke-width="3.4" stroke-linecap="round"/>
<line x1="1245.9" y1="1584.0" x2="1266.1" y2="1584.0" stroke="#17100d" stroke-width="3.4" stroke-linecap="round"/>
<line x1="1256.0" y1="1921.5" x2="1256.0" y2="1934.4" stroke="#17100d" stroke-width="3.4" stroke-linecap="butt"/>
<line x1="1245.9" y1="1921.5" x2="1266.1" y2="1921.5" stroke="#17100d" stroke-width="3.4" stroke-linecap="round"/>
<line x1="1245.9" y1="1934.4" x2="1266.1" y2="1934.4" stroke="#17100d" stroke-width="3.4" stroke-linecap="round"/>
<line x1="1256.0" y1="1946.1" x2="1256.0" y2="2003.0" stroke="#17100d" stroke-width="3.4" stroke-linecap="butt"/>
<line x1="1245.9" y1="1946.1" x2="1266.1" y2="1946.1" stroke="#17100d" stroke-width="3.4" stroke-linecap="round"/>
<line x1="1245.9" y1="2003.0" x2="1266.1" y2="2003.0" stroke="#17100d" stroke-width="3.4" stroke-linecap="round"/>
<rect x="1316.9" y="1386.9" width="80.6" height="763.9" fill="#bfb4af" stroke="#17100d" stroke-width="2.5"/>
<rect x="1316.9" y="1897.4" width="80.6" height="253.4" fill="#8a7e7a" stroke="#17100d" stroke-width="2.5"/>
<rect x="1316.9" y="1946.7" width="80.6" height="204.1" fill="#4a3f3b" stroke="#17100d" stroke-width="2.5"/>
<line x1="1357.2" y1="2047.0" x2="1357.2" y2="2073.7" stroke="#17100d" stroke-width="3.4" stroke-linecap="butt"/>
<line x1="1347.1" y1="2047.0" x2="1367.3" y2="2047.0" stroke="#17100d" stroke-width="3.4" stroke-linecap="round"/>
<rect x="1316.9" y="2071.7" width="80.6" height="79.1" fill="#150f0c" stroke="#17100d" stroke-width="2.5"/>
<line x1="1357.2" y1="2047.0" x2="1357.2" y2="2071.7" stroke="#17100d" stroke-width="3.4" stroke-linecap="butt"/>
<line x1="1347.1" y1="2047.0" x2="1367.3" y2="2047.0" stroke="#17100d" stroke-width="3.4" stroke-linecap="round"/>
<line x1="1357.2" y1="1316.5" x2="1357.2" y2="1455.5" stroke="#17100d" stroke-width="3.4" stroke-linecap="butt"/>
<line x1="1347.1" y1="1316.5" x2="1367.3" y2="1316.5" stroke="#17100d" stroke-width="3.4" stroke-linecap="round"/>
<line x1="1347.1" y1="1455.5" x2="1367.3" y2="1455.5" stroke="#17100d" stroke-width="3.4" stroke-linecap="round"/>
<line x1="1357.2" y1="1894.8" x2="1357.2" y2="1900.0" stroke="#17100d" stroke-width="3.4" stroke-linecap="butt"/>
<line x1="1347.1" y1="1894.8" x2="1367.3" y2="1894.8" stroke="#17100d" stroke-width="3.4" stroke-linecap="round"/>
<line x1="1347.1" y1="1900.0" x2="1367.3" y2="1900.0" stroke="#17100d" stroke-width="3.4" stroke-linecap="round"/>
<line x1="1357.2" y1="1912.1" x2="1357.2" y2="1983.1" stroke="#17100d" stroke-width="3.4" stroke-linecap="butt"/>
<line x1="1347.1" y1="1912.1" x2="1367.3" y2="1912.1" stroke="#17100d" stroke-width="3.4" stroke-linecap="round"/>
<line x1="1347.1" y1="1983.1" x2="1367.3" y2="1983.1" stroke="#17100d" stroke-width="3.4" stroke-linecap="round"/>
<rect x="1418.1" y="1492.5" width="80.6" height="658.3" fill="#bfb4af" stroke="#17100d" stroke-width="2.5"/>
<rect x="1418.1" y="1920.9" width="80.6" height="229.9" fill="#8a7e7a" stroke="#17100d" stroke-width="2.5"/>
<rect x="1418.1" y="1979.0" width="80.6" height="171.8" fill="#4a3f3b" stroke="#17100d" stroke-width="2.5"/>
<line x1="1458.4" y1="2082.5" x2="1458.4" y2="2086.0" stroke="#17100d" stroke-width="3.4" stroke-linecap="butt"/>
<line x1="1448.3" y1="2082.5" x2="1468.5" y2="2082.5" stroke="#17100d" stroke-width="3.4" stroke-linecap="round"/>
<rect x="1418.1" y="2084.0" width="80.6" height="66.8" fill="#150f0c" stroke="#17100d" stroke-width="2.5"/>
<line x1="1458.4" y1="2082.5" x2="1458.4" y2="2084.0" stroke="#17100d" stroke-width="3.4" stroke-linecap="butt"/>
<line x1="1448.3" y1="2082.5" x2="1468.5" y2="2082.5" stroke="#17100d" stroke-width="3.4" stroke-linecap="round"/>
<line x1="1458.4" y1="1451.4" x2="1458.4" y2="1534.2" stroke="#17100d" stroke-width="3.4" stroke-linecap="butt"/>
<line x1="1448.3" y1="1451.4" x2="1468.5" y2="1451.4" stroke="#17100d" stroke-width="3.4" stroke-linecap="round"/>
<line x1="1448.3" y1="1534.2" x2="1468.5" y2="1534.2" stroke="#17100d" stroke-width="3.4" stroke-linecap="round"/>
<line x1="1458.4" y1="1912.1" x2="1458.4" y2="1929.1" stroke="#17100d" stroke-width="3.4" stroke-linecap="butt"/>
<line x1="1448.3" y1="1912.1" x2="1468.5" y2="1912.1" stroke="#17100d" stroke-width="3.4" stroke-linecap="round"/>
<line x1="1448.3" y1="1929.1" x2="1468.5" y2="1929.1" stroke="#17100d" stroke-width="3.4" stroke-linecap="round"/>
<line x1="1458.4" y1="1950.8" x2="1458.4" y2="2008.3" stroke="#17100d" stroke-width="3.4" stroke-linecap="butt"/>
<line x1="1448.3" y1="1950.8" x2="1468.5" y2="1950.8" stroke="#17100d" stroke-width="3.4" stroke-linecap="round"/>
<line x1="1448.3" y1="2008.3" x2="1468.5" y2="2008.3" stroke="#17100d" stroke-width="3.4" stroke-linecap="round"/>
<rect x="303.8" y="2683.8" width="40.2" height="529.2" fill="#e8e7e6" stroke="#17100d" stroke-width="2.5"/>
<rect x="344.0" y="2550.1" width="40.2" height="662.9" fill="#bfb4af" stroke="#17100d" stroke-width="2.5"/>
<line x1="323.9" y1="2472.1" x2="323.9" y2="2895.5" stroke="#17100d" stroke-width="3.4" stroke-linecap="butt"/>
<line x1="313.8" y1="2472.1" x2="334.0" y2="2472.1" stroke="#17100d" stroke-width="3.4" stroke-linecap="round"/>
<line x1="313.8" y1="2895.5" x2="334.0" y2="2895.5" stroke="#17100d" stroke-width="3.4" stroke-linecap="round"/>
<line x1="364.1" y1="2410.8" x2="364.1" y2="2689.4" stroke="#17100d" stroke-width="3.4" stroke-linecap="butt"/>
<line x1="354.0" y1="2410.8" x2="374.2" y2="2410.8" stroke="#17100d" stroke-width="3.4" stroke-linecap="round"/>
<line x1="354.0" y1="2689.4" x2="374.2" y2="2689.4" stroke="#17100d" stroke-width="3.4" stroke-linecap="round"/>
<rect x="405.0" y="2817.5" width="40.2" height="395.5" fill="#e8e7e6" stroke="#17100d" stroke-width="2.5"/>
<rect x="445.2" y="2455.4" width="40.2" height="757.6" fill="#bfb4af" stroke="#17100d" stroke-width="2.5"/>
<line x1="425.1" y1="2650.4" x2="425.1" y2="2984.6" stroke="#17100d" stroke-width="3.4" stroke-linecap="butt"/>
<line x1="415.0" y1="2650.4" x2="435.2" y2="2650.4" stroke="#17100d" stroke-width="3.4" stroke-linecap="round"/>
<line x1="415.0" y1="2984.6" x2="435.2" y2="2984.6" stroke="#17100d" stroke-width="3.4" stroke-linecap="round"/>
<line x1="465.3" y1="2327.3" x2="465.3" y2="2583.5" stroke="#17100d" stroke-width="3.4" stroke-linecap="butt"/>
<line x1="455.2" y1="2327.3" x2="475.4" y2="2327.3" stroke="#17100d" stroke-width="3.4" stroke-linecap="round"/>
<line x1="455.2" y1="2583.5" x2="475.4" y2="2583.5" stroke="#17100d" stroke-width="3.4" stroke-linecap="round"/>
<rect x="506.2" y="2628.1" width="40.2" height="584.9" fill="#e8e7e6" stroke="#17100d" stroke-width="2.5"/>
<rect x="546.4" y="2594.7" width="40.2" height="618.3" fill="#bfb4af" stroke="#17100d" stroke-width="2.5"/>
<line x1="526.3" y1="2594.7" x2="526.3" y2="2661.5" stroke="#17100d" stroke-width="3.4" stroke-linecap="butt"/>
<line x1="516.2" y1="2594.7" x2="536.4" y2="2594.7" stroke="#17100d" stroke-width="3.4" stroke-linecap="round"/>
<line x1="516.2" y1="2661.5" x2="536.4" y2="2661.5" stroke="#17100d" stroke-width="3.4" stroke-linecap="round"/>
<line x1="566.5" y1="2500.0" x2="566.5" y2="2689.4" stroke="#17100d" stroke-width="3.4" stroke-linecap="butt"/>
<line x1="556.4" y1="2500.0" x2="576.6" y2="2500.0" stroke="#17100d" stroke-width="3.4" stroke-linecap="round"/>
<line x1="556.4" y1="2689.4" x2="576.6" y2="2689.4" stroke="#17100d" stroke-width="3.4" stroke-linecap="round"/>
<rect x="607.3" y="2449.8" width="40.2" height="763.2" fill="#e8e7e6" stroke="#17100d" stroke-width="2.5"/>
<rect x="647.5" y="2605.8" width="40.2" height="607.2" fill="#bfb4af" stroke="#17100d" stroke-width="2.5"/>
<line x1="627.4" y1="2399.7" x2="627.4" y2="2500.0" stroke="#17100d" stroke-width="3.4" stroke-linecap="butt"/>
<line x1="617.3" y1="2399.7" x2="637.5" y2="2399.7" stroke="#17100d" stroke-width="3.4" stroke-linecap="round"/>
<line x1="617.3" y1="2500.0" x2="637.5" y2="2500.0" stroke="#17100d" stroke-width="3.4" stroke-linecap="round"/>
<line x1="667.6" y1="2539.0" x2="667.6" y2="2672.7" stroke="#17100d" stroke-width="3.4" stroke-linecap="butt"/>
<line x1="657.5" y1="2539.0" x2="677.7" y2="2539.0" stroke="#17100d" stroke-width="3.4" stroke-linecap="round"/>
<line x1="657.5" y1="2672.7" x2="677.7" y2="2672.7" stroke="#17100d" stroke-width="3.4" stroke-linecap="round"/>
<rect x="708.5" y="2414.7" width="40.2" height="798.3" fill="#e8e7e6" stroke="#17100d" stroke-width="2.5"/>
<rect x="748.7" y="2655.9" width="40.2" height="557.1" fill="#bfb4af" stroke="#17100d" stroke-width="2.5"/>
<line x1="728.6" y1="2347.9" x2="728.6" y2="2481.6" stroke="#17100d" stroke-width="3.4" stroke-linecap="butt"/>
<line x1="718.5" y1="2347.9" x2="738.7" y2="2347.9" stroke="#17100d" stroke-width="3.4" stroke-linecap="round"/>
<line x1="718.5" y1="2481.6" x2="738.7" y2="2481.6" stroke="#17100d" stroke-width="3.4" stroke-linecap="round"/>
<line x1="768.8" y1="2622.5" x2="768.8" y2="2689.4" stroke="#17100d" stroke-width="3.4" stroke-linecap="butt"/>
<line x1="758.7" y1="2622.5" x2="778.9" y2="2622.5" stroke="#17100d" stroke-width="3.4" stroke-linecap="round"/>
<line x1="758.7" y1="2689.4" x2="778.9" y2="2689.4" stroke="#17100d" stroke-width="3.4" stroke-linecap="round"/>
<rect x="809.7" y="2488.8" width="40.2" height="724.2" fill="#e8e7e6" stroke="#17100d" stroke-width="2.5"/>
<rect x="849.9" y="2711.7" width="40.2" height="501.3" fill="#bfb4af" stroke="#17100d" stroke-width="2.5"/>
<line x1="829.8" y1="2461.0" x2="829.8" y2="2516.7" stroke="#17100d" stroke-width="3.4" stroke-linecap="butt"/>
<line x1="819.7" y1="2461.0" x2="839.9" y2="2461.0" stroke="#17100d" stroke-width="3.4" stroke-linecap="round"/>
<line x1="819.7" y1="2516.7" x2="839.9" y2="2516.7" stroke="#17100d" stroke-width="3.4" stroke-linecap="round"/>
<line x1="870.0" y1="2633.7" x2="870.0" y2="2789.6" stroke="#17100d" stroke-width="3.4" stroke-linecap="butt"/>
<line x1="859.9" y1="2633.7" x2="880.1" y2="2633.7" stroke="#17100d" stroke-width="3.4" stroke-linecap="round"/>
<line x1="859.9" y1="2789.6" x2="880.1" y2="2789.6" stroke="#17100d" stroke-width="3.4" stroke-linecap="round"/>
<rect x="910.9" y="2477.7" width="40.2" height="735.3" fill="#e8e7e6" stroke="#17100d" stroke-width="2.5"/>
<rect x="951.1" y="2617.0" width="40.2" height="596.0" fill="#bfb4af" stroke="#17100d" stroke-width="2.5"/>
<line x1="931.0" y1="2466.5" x2="931.0" y2="2488.8" stroke="#17100d" stroke-width="3.4" stroke-linecap="butt"/>
<line x1="920.9" y1="2466.5" x2="941.1" y2="2466.5" stroke="#17100d" stroke-width="3.4" stroke-linecap="round"/>
<line x1="920.9" y1="2488.8" x2="941.1" y2="2488.8" stroke="#17100d" stroke-width="3.4" stroke-linecap="round"/>
<line x1="971.2" y1="2483.3" x2="971.2" y2="2750.6" stroke="#17100d" stroke-width="3.4" stroke-linecap="butt"/>
<line x1="961.1" y1="2483.3" x2="981.3" y2="2483.3" stroke="#17100d" stroke-width="3.4" stroke-linecap="round"/>
<line x1="961.1" y1="2750.6" x2="981.3" y2="2750.6" stroke="#17100d" stroke-width="3.4" stroke-linecap="round"/>
<rect x="1012.1" y="2583.5" width="40.2" height="629.5" fill="#e8e7e6" stroke="#17100d" stroke-width="2.5"/>
<rect x="1052.3" y="2756.2" width="40.2" height="456.8" fill="#bfb4af" stroke="#17100d" stroke-width="2.5"/>
<line x1="1032.2" y1="2522.3" x2="1032.2" y2="2644.8" stroke="#17100d" stroke-width="3.4" stroke-linecap="butt"/>
<line x1="1022.1" y1="2522.3" x2="1042.3" y2="2522.3" stroke="#17100d" stroke-width="3.4" stroke-linecap="round"/>
<line x1="1022.1" y1="2644.8" x2="1042.3" y2="2644.8" stroke="#17100d" stroke-width="3.4" stroke-linecap="round"/>
<line x1="1072.4" y1="2722.8" x2="1072.4" y2="2789.6" stroke="#17100d" stroke-width="3.4" stroke-linecap="butt"/>
<line x1="1062.3" y1="2722.8" x2="1082.5" y2="2722.8" stroke="#17100d" stroke-width="3.4" stroke-linecap="round"/>
<line x1="1062.3" y1="2789.6" x2="1082.5" y2="2789.6" stroke="#17100d" stroke-width="3.4" stroke-linecap="round"/>
<rect x="1113.3" y="2505.5" width="40.2" height="707.5" fill="#e8e7e6" stroke="#17100d" stroke-width="2.5"/>
<rect x="1153.5" y="2711.7" width="40.2" height="501.3" fill="#bfb4af" stroke="#17100d" stroke-width="2.5"/>
<line x1="1133.4" y1="2399.7" x2="1133.4" y2="2611.4" stroke="#17100d" stroke-width="3.4" stroke-linecap="butt"/>
<line x1="1123.3" y1="2399.7" x2="1143.5" y2="2399.7" stroke="#17100d" stroke-width="3.4" stroke-linecap="round"/>
<line x1="1123.3" y1="2611.4" x2="1143.5" y2="2611.4" stroke="#17100d" stroke-width="3.4" stroke-linecap="round"/>
<line x1="1173.6" y1="2589.1" x2="1173.6" y2="2834.2" stroke="#17100d" stroke-width="3.4" stroke-linecap="butt"/>
<line x1="1163.5" y1="2589.1" x2="1183.7" y2="2589.1" stroke="#17100d" stroke-width="3.4" stroke-linecap="round"/>
<line x1="1163.5" y1="2834.2" x2="1183.7" y2="2834.2" stroke="#17100d" stroke-width="3.4" stroke-linecap="round"/>
<rect x="1214.4" y="2491.1" width="40.2" height="721.9" fill="#e8e7e6" stroke="#17100d" stroke-width="2.5"/>
<rect x="1254.6" y="2650.4" width="40.2" height="562.6" fill="#bfb4af" stroke="#17100d" stroke-width="2.5"/>
<line x1="1234.5" y1="2438.1" x2="1234.5" y2="2544.0" stroke="#17100d" stroke-width="3.4" stroke-linecap="butt"/>
<line x1="1224.4" y1="2438.1" x2="1244.6" y2="2438.1" stroke="#17100d" stroke-width="3.4" stroke-linecap="round"/>
<line x1="1224.4" y1="2544.0" x2="1244.6" y2="2544.0" stroke="#17100d" stroke-width="3.4" stroke-linecap="round"/>
<line x1="1274.7" y1="2539.0" x2="1274.7" y2="2761.8" stroke="#17100d" stroke-width="3.4" stroke-linecap="butt"/>
<line x1="1264.6" y1="2539.0" x2="1284.8" y2="2539.0" stroke="#17100d" stroke-width="3.4" stroke-linecap="round"/>
<line x1="1264.6" y1="2761.8" x2="1284.8" y2="2761.8" stroke="#17100d" stroke-width="3.4" stroke-linecap="round"/>
<rect x="1315.6" y="2477.7" width="40.2" height="735.3" fill="#e8e7e6" stroke="#17100d" stroke-width="2.5"/>
<rect x="1355.8" y="2672.7" width="40.2" height="540.3" fill="#bfb4af" stroke="#17100d" stroke-width="2.5"/>
<line x1="1335.7" y1="2416.4" x2="1335.7" y2="2539.0" stroke="#17100d" stroke-width="3.4" stroke-linecap="butt"/>
<line x1="1325.6" y1="2416.4" x2="1345.8" y2="2416.4" stroke="#17100d" stroke-width="3.4" stroke-linecap="round"/>
<line x1="1325.6" y1="2539.0" x2="1345.8" y2="2539.0" stroke="#17100d" stroke-width="3.4" stroke-linecap="round"/>
<line x1="1375.9" y1="2449.8" x2="1375.9" y2="2895.5" stroke="#17100d" stroke-width="3.4" stroke-linecap="butt"/>
<line x1="1365.8" y1="2449.8" x2="1386.0" y2="2449.8" stroke="#17100d" stroke-width="3.4" stroke-linecap="round"/>
<line x1="1365.8" y1="2895.5" x2="1386.0" y2="2895.5" stroke="#17100d" stroke-width="3.4" stroke-linecap="round"/>
<rect x="1416.8" y="2605.8" width="40.2" height="607.2" fill="#e8e7e6" stroke="#17100d" stroke-width="2.5"/>
<rect x="1457.0" y="2678.2" width="40.2" height="534.8" fill="#bfb4af" stroke="#17100d" stroke-width="2.5"/>
<line x1="1436.9" y1="2572.4" x2="1436.9" y2="2639.2" stroke="#17100d" stroke-width="3.4" stroke-linecap="butt"/>
<line x1="1426.8" y1="2572.4" x2="1447.0" y2="2572.4" stroke="#17100d" stroke-width="3.4" stroke-linecap="round"/>
<line x1="1426.8" y1="2639.2" x2="1447.0" y2="2639.2" stroke="#17100d" stroke-width="3.4" stroke-linecap="round"/>
<line x1="1477.1" y1="2605.8" x2="1477.1" y2="2750.6" stroke="#17100d" stroke-width="3.4" stroke-linecap="butt"/>
<line x1="1467.0" y1="2605.8" x2="1487.2" y2="2605.8" stroke="#17100d" stroke-width="3.4" stroke-linecap="round"/>
<line x1="1467.0" y1="2750.6" x2="1487.2" y2="2750.6" stroke="#17100d" stroke-width="3.4" stroke-linecap="round"/>
<rect x="245.2" y="38.0" width="1314.5" height="1057.0" fill="none" stroke="#17100d" stroke-width="3.7"/>
<rect x="245.2" y="1095.0" width="1314.5" height="1055.8" fill="none" stroke="#17100d" stroke-width="3.7"/>
<rect x="242.8" y="2155.1" width="1315.4" height="1057.9" fill="none" stroke="#17100d" stroke-width="3.7"/>
<line x1="241.0" y1="2153.0" x2="1561.5" y2="2153.0" stroke="#17100d" stroke-width="2.0" stroke-linecap="butt"/>
<line x1="245.2" y1="989.3" x2="255.2" y2="989.3" stroke="#17100d" stroke-width="3.4" stroke-linecap="butt"/>
<line x1="245.2" y1="883.6" x2="265.2" y2="883.6" stroke="#17100d" stroke-width="3.4" stroke-linecap="butt"/>
<line x1="245.2" y1="777.9" x2="255.2" y2="777.9" stroke="#17100d" stroke-width="3.4" stroke-linecap="butt"/>
<line x1="245.2" y1="672.2" x2="265.2" y2="672.2" stroke="#17100d" stroke-width="3.4" stroke-linecap="butt"/>
<line x1="245.2" y1="566.5" x2="255.2" y2="566.5" stroke="#17100d" stroke-width="3.4" stroke-linecap="butt"/>
<line x1="245.2" y1="460.8" x2="265.2" y2="460.8" stroke="#17100d" stroke-width="3.4" stroke-linecap="butt"/>
<line x1="245.2" y1="355.1" x2="255.2" y2="355.1" stroke="#17100d" stroke-width="3.4" stroke-linecap="butt"/>
<line x1="245.2" y1="249.4" x2="265.2" y2="249.4" stroke="#17100d" stroke-width="3.4" stroke-linecap="butt"/>
<line x1="245.2" y1="143.7" x2="255.2" y2="143.7" stroke="#17100d" stroke-width="3.4" stroke-linecap="butt"/>
<line x1="245.2" y1="2045.2" x2="255.2" y2="2045.2" stroke="#17100d" stroke-width="3.4" stroke-linecap="butt"/>
<line x1="245.2" y1="1939.6" x2="265.2" y2="1939.6" stroke="#17100d" stroke-width="3.4" stroke-linecap="butt"/>
<line x1="245.2" y1="1834.1" x2="255.2" y2="1834.1" stroke="#17100d" stroke-width="3.4" stroke-linecap="butt"/>
<line x1="245.2" y1="1728.5" x2="265.2" y2="1728.5" stroke="#17100d" stroke-width="3.4" stroke-linecap="butt"/>
<line x1="245.2" y1="1622.9" x2="255.2" y2="1622.9" stroke="#17100d" stroke-width="3.4" stroke-linecap="butt"/>
<line x1="245.2" y1="1517.3" x2="265.2" y2="1517.3" stroke="#17100d" stroke-width="3.4" stroke-linecap="butt"/>
<line x1="245.2" y1="1411.7" x2="255.2" y2="1411.7" stroke="#17100d" stroke-width="3.4" stroke-linecap="butt"/>
<line x1="245.2" y1="1306.2" x2="265.2" y2="1306.2" stroke="#17100d" stroke-width="3.4" stroke-linecap="butt"/>
<line x1="245.2" y1="1200.6" x2="255.2" y2="1200.6" stroke="#17100d" stroke-width="3.4" stroke-linecap="butt"/>
<line x1="242.8" y1="3213.0" x2="263.8" y2="3213.0" stroke="#17100d" stroke-width="3.4" stroke-linecap="butt"/>
<line x1="242.8" y1="3157.3" x2="253.8" y2="3157.3" stroke="#17100d" stroke-width="3.4" stroke-linecap="butt"/>
<line x1="242.8" y1="3101.6" x2="263.8" y2="3101.6" stroke="#17100d" stroke-width="3.4" stroke-linecap="butt"/>
<line x1="242.8" y1="3045.9" x2="253.8" y2="3045.9" stroke="#17100d" stroke-width="3.4" stroke-linecap="butt"/>
<line x1="242.8" y1="2990.2" x2="263.8" y2="2990.2" stroke="#17100d" stroke-width="3.4" stroke-linecap="butt"/>
<line x1="242.8" y1="2934.5" x2="253.8" y2="2934.5" stroke="#17100d" stroke-width="3.4" stroke-linecap="butt"/>
<line x1="242.8" y1="2878.8" x2="263.8" y2="2878.8" stroke="#17100d" stroke-width="3.4" stroke-linecap="butt"/>
<line x1="242.8" y1="2823.1" x2="253.8" y2="2823.1" stroke="#17100d" stroke-width="3.4" stroke-linecap="butt"/>
<line x1="242.8" y1="2767.4" x2="263.8" y2="2767.4" stroke="#17100d" stroke-width="3.4" stroke-linecap="butt"/>
<line x1="242.8" y1="2711.7" x2="253.8" y2="2711.7" stroke="#17100d" stroke-width="3.4" stroke-linecap="butt"/>
<line x1="242.8" y1="2655.9" x2="263.8" y2="2655.9" stroke="#17100d" stroke-width="3.4" stroke-linecap="butt"/>
<line x1="242.8" y1="2600.2" x2="253.8" y2="2600.2" stroke="#17100d" stroke-width="3.4" stroke-linecap="butt"/>
<line x1="242.8" y1="2544.5" x2="263.8" y2="2544.5" stroke="#17100d" stroke-width="3.4" stroke-linecap="butt"/>
<line x1="242.8" y1="2488.8" x2="253.8" y2="2488.8" stroke="#17100d" stroke-width="3.4" stroke-linecap="butt"/>
<line x1="242.8" y1="2433.1" x2="263.8" y2="2433.1" stroke="#17100d" stroke-width="3.4" stroke-linecap="butt"/>
<line x1="242.8" y1="2377.4" x2="253.8" y2="2377.4" stroke="#17100d" stroke-width="3.4" stroke-linecap="butt"/>
<line x1="242.8" y1="2321.7" x2="263.8" y2="2321.7" stroke="#17100d" stroke-width="3.4" stroke-linecap="butt"/>
<line x1="242.8" y1="2266.0" x2="253.8" y2="2266.0" stroke="#17100d" stroke-width="3.4" stroke-linecap="butt"/>
<line x1="242.8" y1="2210.3" x2="263.8" y2="2210.3" stroke="#17100d" stroke-width="3.4" stroke-linecap="butt"/>
<line x1="345.2" y1="1095.0" x2="345.2" y2="1115.6" stroke="#17100d" stroke-width="3.4" stroke-linecap="butt"/>
<line x1="345.5" y1="2150.8" x2="345.5" y2="2172.2" stroke="#17100d" stroke-width="3.4" stroke-linecap="butt"/>
<line x1="446.4" y1="1095.0" x2="446.4" y2="1115.6" stroke="#17100d" stroke-width="3.4" stroke-linecap="butt"/>
<line x1="446.7" y1="2150.8" x2="446.7" y2="2172.2" stroke="#17100d" stroke-width="3.4" stroke-linecap="butt"/>
<line x1="547.6" y1="1095.0" x2="547.6" y2="1115.6" stroke="#17100d" stroke-width="3.4" stroke-linecap="butt"/>
<line x1="547.9" y1="2150.8" x2="547.9" y2="2172.2" stroke="#17100d" stroke-width="3.4" stroke-linecap="butt"/>
<line x1="648.8" y1="1095.0" x2="648.8" y2="1115.6" stroke="#17100d" stroke-width="3.4" stroke-linecap="butt"/>
<line x1="649.1" y1="2150.8" x2="649.1" y2="2172.2" stroke="#17100d" stroke-width="3.4" stroke-linecap="butt"/>
<line x1="750.0" y1="1095.0" x2="750.0" y2="1115.6" stroke="#17100d" stroke-width="3.4" stroke-linecap="butt"/>
<line x1="750.3" y1="2150.8" x2="750.3" y2="2172.2" stroke="#17100d" stroke-width="3.4" stroke-linecap="butt"/>
<line x1="851.2" y1="1095.0" x2="851.2" y2="1115.6" stroke="#17100d" stroke-width="3.4" stroke-linecap="butt"/>
<line x1="851.5" y1="2150.8" x2="851.5" y2="2172.2" stroke="#17100d" stroke-width="3.4" stroke-linecap="butt"/>
<line x1="952.4" y1="1095.0" x2="952.4" y2="1115.6" stroke="#17100d" stroke-width="3.4" stroke-linecap="butt"/>
<line x1="952.7" y1="2150.8" x2="952.7" y2="2172.2" stroke="#17100d" stroke-width="3.4" stroke-linecap="butt"/>
<line x1="1053.6" y1="1095.0" x2="1053.6" y2="1115.6" stroke="#17100d" stroke-width="3.4" stroke-linecap="butt"/>
<line x1="1053.9" y1="2150.8" x2="1053.9" y2="2172.2" stroke="#17100d" stroke-width="3.4" stroke-linecap="butt"/>
<line x1="1154.8" y1="1095.0" x2="1154.8" y2="1115.6" stroke="#17100d" stroke-width="3.4" stroke-linecap="butt"/>
<line x1="1155.1" y1="2150.8" x2="1155.1" y2="2172.2" stroke="#17100d" stroke-width="3.4" stroke-linecap="butt"/>
<line x1="1256.0" y1="1095.0" x2="1256.0" y2="1115.6" stroke="#17100d" stroke-width="3.4" stroke-linecap="butt"/>
<line x1="1256.3" y1="2150.8" x2="1256.3" y2="2172.2" stroke="#17100d" stroke-width="3.4" stroke-linecap="butt"/>
<line x1="1357.2" y1="1095.0" x2="1357.2" y2="1115.6" stroke="#17100d" stroke-width="3.4" stroke-linecap="butt"/>
<line x1="1357.5" y1="2150.8" x2="1357.5" y2="2172.2" stroke="#17100d" stroke-width="3.4" stroke-linecap="butt"/>
<line x1="1458.4" y1="1095.0" x2="1458.4" y2="1115.6" stroke="#17100d" stroke-width="3.4" stroke-linecap="butt"/>
<line x1="1458.7" y1="2150.8" x2="1458.7" y2="2172.2" stroke="#17100d" stroke-width="3.4" stroke-linecap="butt"/>
<line x1="242.8" y1="3213.0" x2="242.8" y2="3233.2" stroke="#17100d" stroke-width="3.4" stroke-linecap="butt"/>
<line x1="344.0" y1="3213.0" x2="344.0" y2="3233.2" stroke="#17100d" stroke-width="3.4" stroke-linecap="butt"/>
<line x1="445.2" y1="3213.0" x2="445.2" y2="3233.2" stroke="#17100d" stroke-width="3.4" stroke-linecap="butt"/>
<line x1="546.4" y1="3213.0" x2="546.4" y2="3233.2" stroke="#17100d" stroke-width="3.4" stroke-linecap="butt"/>
<line x1="647.5" y1="3213.0" x2="647.5" y2="3233.2" stroke="#17100d" stroke-width="3.4" stroke-linecap="butt"/>
<line x1="748.7" y1="3213.0" x2="748.7" y2="3233.2" stroke="#17100d" stroke-width="3.4" stroke-linecap="butt"/>
<line x1="849.9" y1="3213.0" x2="849.9" y2="3233.2" stroke="#17100d" stroke-width="3.4" stroke-linecap="butt"/>
<line x1="951.1" y1="3213.0" x2="951.1" y2="3233.2" stroke="#17100d" stroke-width="3.4" stroke-linecap="butt"/>
<line x1="1052.3" y1="3213.0" x2="1052.3" y2="3233.2" stroke="#17100d" stroke-width="3.4" stroke-linecap="butt"/>
<line x1="1153.5" y1="3213.0" x2="1153.5" y2="3233.2" stroke="#17100d" stroke-width="3.4" stroke-linecap="butt"/>
<line x1="1254.6" y1="3213.0" x2="1254.6" y2="3233.2" stroke="#17100d" stroke-width="3.4" stroke-linecap="butt"/>
<line x1="1355.8" y1="3213.0" x2="1355.8" y2="3233.2" stroke="#17100d" stroke-width="3.4" stroke-linecap="butt"/>
<line x1="1457.0" y1="3213.0" x2="1457.0" y2="3233.2" stroke="#17100d" stroke-width="3.4" stroke-linecap="butt"/>
<line x1="1558.2" y1="3213.0" x2="1558.2" y2="3233.2" stroke="#17100d" stroke-width="3.4" stroke-linecap="butt"/>
<rect x="308.4" y="94.3" width="119.1" height="58.5" fill="#bfb4af" stroke="#17100d" stroke-width="2.5"/>
<rect x="308.4" y="164.0" width="119.1" height="57.6" fill="#887c78" stroke="#17100d" stroke-width="2.5"/>
<rect x="308.4" y="232.8" width="119.1" height="57.8" fill="#483d39" stroke="#17100d" stroke-width="2.5"/>
<rect x="303.2" y="1143.6" width="108.8" height="51.2" fill="#bfb4af" stroke="#17100d" stroke-width="2.5"/>
<rect x="303.2" y="1205.8" width="108.8" height="51.8" fill="#8a7e7a" stroke="#17100d" stroke-width="2.5"/>
<rect x="303.2" y="1268.6" width="108.8" height="52.4" fill="#4a3f3b" stroke="#17100d" stroke-width="2.5"/>
<rect x="303.2" y="1331.4" width="108.8" height="52.4" fill="#150f0c" stroke="#17100d" stroke-width="2.5"/>
<rect x="371.2" y="2177.2" width="109.8" height="53.4" fill="#d3d2d3" stroke="#17100d" stroke-width="2.0"/>
<rect x="587.4" y="2177.2" width="110.0" height="53.4" fill="#868686" stroke="#17100d" stroke-width="2.0"/>
<text x="141.8" y="51.0" font-size="53" font-weight="bold" letter-spacing="-3.35">1.00</text>
<text x="141.6" y="263.0" font-size="53" font-weight="bold" letter-spacing="-3.28">0.80</text>
<text x="141.6" y="474.3" font-size="53" font-weight="bold" letter-spacing="-3.28">0.60</text>
<text x="141.6" y="685.6" font-size="53" font-weight="bold" letter-spacing="-3.28">0.40</text>
<text x="141.6" y="896.9" font-size="53" font-weight="bold" letter-spacing="-3.28">0.20</text>
<text x="141.6" y="1059.5" font-size="53" font-weight="bold" letter-spacing="-3.28">0.00</text>
<text x="141.8" y="1123.2" font-size="53" font-weight="bold" letter-spacing="-3.35">1.00</text>
<text x="141.6" y="1319.4" font-size="53" font-weight="bold" letter-spacing="-3.28">0.80</text>
<text x="141.6" y="1530.5" font-size="53" font-weight="bold" letter-spacing="-3.28">0.60</text>
<text x="141.6" y="1741.7" font-size="53" font-weight="bold" letter-spacing="-3.28">0.40</text>
<text x="141.6" y="1952.8" font-size="53" font-weight="bold" letter-spacing="-3.28">0.20</text>
<text x="141.6" y="2165.7" font-size="53" font-weight="bold" letter-spacing="-3.28">0.00</text>
<text x="141.6" y="2224.8" font-size="53" font-weight="bold" letter-spacing="-3.28">0.20</text>
<text x="141.6" y="2336.0" font-size="53" font-weight="bold" letter-spacing="-3.28">0.18</text>
<text x="141.6" y="2447.2" font-size="53" font-weight="bold" letter-spacing="-3.28">0.16</text>
<text x="141.6" y="2558.4" font-size="53" font-weight="bold" letter-spacing="-3.62">0.14</text>
<text x="141.6" y="2669.6" font-size="53" font-weight="bold" letter-spacing="-3.28">0.12</text>
<text x="141.6" y="2780.8" font-size="53" font-weight="bold" letter-spacing="-3.28">0.10</text>
<text x="141.6" y="2892.0" font-size="53" font-weight="bold" letter-spacing="-3.28">0.08</text>
<text x="141.6" y="3003.2" font-size="53" font-weight="bold" letter-spacing="-3.28">0.06</text>
<text x="141.6" y="3114.4" font-size="53" font-weight="bold" letter-spacing="-3.62">0.04</text>
<text x="141.6" y="3225.6" font-size="53" font-weight="bold" letter-spacing="-3.28">0.02</text>
<text x="444.7" y="140.9" font-size="53" font-weight="bold" letter-spacing="0.30">Leaves</text>
<text x="442.7" y="209.7" font-size="53" font-weight="bold" letter-spacing="0.22">Stem</text>
<text x="444.7" y="278.6" font-size="53" font-weight="bold" letter-spacing="0.44">Root</text>
<text x="428.8" y="1184.5" font-size="53" font-weight="bold" letter-spacing="-2.56">Leaves</text>
<text x="426.8" y="1247.2" font-size="53" font-weight="bold" letter-spacing="-1.94">Stalk</text>
<text x="426.8" y="1310.0" font-size="53" font-weight="bold" letter-spacing="-2.72">Stem</text>
<text x="428.8" y="1373.4" font-size="53" font-weight="bold" letter-spacing="-3.56">Root</text>
<text x="483.4" y="2220.1" font-size="50" font-weight="bold" letter-spacing="-0.93">Rice</text>
<text x="698.0" y="2220.1" font-size="50" font-weight="bold" letter-spacing="-0.77">Cucumber</text>
<text x="882.0" y="101.4" font-size="52" font-weight="bold" letter-spacing="1.31">Rice</text>
<text x="1386.7" y="92.4" font-size="51.5" font-weight="bold" letter-spacing="0.98">(A)</text>
<text x="801.0" y="1160.8" font-size="48.5" font-weight="bold" letter-spacing="3.84">Cucumber</text>
<text x="1389.8" y="1181.6" font-size="51.5" font-weight="bold" letter-spacing="1.05">(B)</text>
<text x="1404.6" y="2236.0" font-size="52" font-weight="bold" letter-spacing="0.37">(C)</text>
<text x="704.6" y="3373.0" font-size="53" font-weight="bold" letter-spacing="0.85">Mg supply (mM)</text>
<text transform="translate(98.0,849.5) rotate(-90) scale(0.95,1)" x="0.0" y="0" font-size="53" font-weight="bold" letter-spacing="2.11">Total biomass (g plant</text>
<text transform="translate(76.0,330.5) rotate(-90) scale(1.15,1)" x="-2.0" y="0" font-size="53" font-weight="bold">−</text>
<text transform="translate(76.0,301.4) rotate(-90) scale(0.95,1)" x="-4.0" y="0" font-size="53" font-weight="bold">1</text>
<text transform="translate(98.0,284.0) rotate(-90) scale(0.95,1)" x="-1.0" y="0" font-size="53" font-weight="bold">)</text>
<text transform="translate(77.0,1906.5) rotate(-90) scale(0.95,1)" x="0.0" y="0" font-size="53" font-weight="bold" letter-spacing="2.12">Total biomass (g plant</text>
<text transform="translate(49.5,1390.0) rotate(-90) scale(1.15,1)" x="-2.0" y="0" font-size="53" font-weight="bold">−</text>
<text transform="translate(54.0,1354.3) rotate(-90) scale(0.95,1)" x="-4.0" y="0" font-size="53" font-weight="bold">1</text>
<text transform="translate(77.0,1338.6) rotate(-90) scale(0.95,1)" x="-1.0" y="0" font-size="53" font-weight="bold">)</text>
<text transform="translate(117.8,2726.3) rotate(-90)" x="0.0" y="0" font-size="53" font-weight="bold">R/S</text>
<text x="334.0" y="896.8" font-size="50" font-weight="bold" letter-spacing="2.60">g</text>
<text x="444.8" y="699.2" font-size="50" font-weight="bold" letter-spacing="2.60">f</text>
<text x="537.3" y="561.4" font-size="50" font-weight="bold" letter-spacing="2.60">e</text>
<text x="629.5" y="532.6" font-size="50" font-weight="bold" letter-spacing="2.60">de</text>
<text x="738.0" y="379.6" font-size="50" font-weight="bold" letter-spacing="2.60">b</text>
<text x="828.9" y="298.5" font-size="50" font-weight="bold" letter-spacing="2.60">ab</text>
<text x="931.5" y="298.5" font-size="50" font-weight="bold" letter-spacing="2.60">ab</text>
<text x="1031.7" y="281.7" font-size="50" font-weight="bold" letter-spacing="2.60">ab</text>
<text x="1144.6" y="186.5" font-size="50" font-weight="bold" letter-spacing="2.60">a</text>
<text x="1234.7" y="342.0" font-size="50" font-weight="bold" letter-spacing="2.60">ab</text>
<text x="1331.9" y="479.5" font-size="50" font-weight="bold" letter-spacing="2.60">cd</text>
<text x="1435.8" y="382.3" font-size="50" font-weight="bold" letter-spacing="2.60">bc</text>
<text x="303.0" y="1527.7" font-size="50" font-weight="bold" letter-spacing="2.60">bcd</text>
<text x="431.0" y="1595.8" font-size="50" font-weight="bold" letter-spacing="2.60">d</text>
<text x="519.3" y="1440.9" font-size="50" font-weight="bold" letter-spacing="2.60">bc</text>
<text x="628.3" y="1475.5" font-size="50" font-weight="bold" letter-spacing="2.60">bc</text>
<text x="725.1" y="1583.5" font-size="50" font-weight="bold" letter-spacing="2.60">cd</text>
<text x="837.0" y="1307.1" font-size="50" font-weight="bold" letter-spacing="2.60">a</text>
<text x="926.3" y="1516.6" font-size="50" font-weight="bold" letter-spacing="2.60">bc</text>
<text x="1030.8" y="1454.4" font-size="50" font-weight="bold" letter-spacing="2.60">bc</text>
<text x="1138.7" y="1426.2" font-size="50" font-weight="bold" letter-spacing="2.60">ab</text>
<text x="1241.3" y="1450.8" font-size="50" font-weight="bold" letter-spacing="2.60">bc</text>
<text x="1339.0" y="1299.5" font-size="50" font-weight="bold" letter-spacing="2.60">a</text>
<text x="1428.7" y="1429.1" font-size="50" font-weight="bold" letter-spacing="2.60">ab</text>
<text x="295.8" y="2449.6" font-size="48.5" font-weight="bold" letter-spacing="-1.67">de</text>
<text x="346.7" y="2391.7" font-size="50" font-weight="bold" letter-spacing="0.49">AB</text>
<text x="411.9" y="2629.8" font-size="48.5" font-weight="bold">e</text>
<text x="456.0" y="2312.5" font-size="50" font-weight="bold">A</text>
<text x="500.6" y="2569.3" font-size="48.5" font-weight="bold" letter-spacing="-1.83">cd</text>
<text x="533.9" y="2487.4" font-size="50" font-weight="bold" letter-spacing="0.49">AB</text>
<text x="607.6" y="2380.4" font-size="48.5" font-weight="bold" letter-spacing="-2.75">ab</text>
<text x="643.6" y="2512.6" font-size="50" font-weight="bold" letter-spacing="0.49">AB</text>
<text x="714.7" y="2326.4" font-size="48.5" font-weight="bold">a</text>
<text x="744.2" y="2613.5" font-size="50" font-weight="bold" letter-spacing="0.49">AB</text>
<text x="799.1" y="2441.4" font-size="48.5" font-weight="bold" letter-spacing="-2.81">abc</text>
<text x="861.1" y="2619.4" font-size="50" font-weight="bold">B</text>
<text x="888.8" y="2452.6" font-size="48.5" font-weight="bold" letter-spacing="-2.81">abc</text>
<text x="960.1" y="2471.5" font-size="50" font-weight="bold" letter-spacing="0.49">AB</text>
<text x="1006.2" y="2504.2" font-size="48.5" font-weight="bold" letter-spacing="-3.80">bcd</text>
<text x="1063.2" y="2698.6" font-size="50" font-weight="bold">B</text>
<text x="1100.0" y="2385.1" font-size="48.5" font-weight="bold" letter-spacing="-2.81">abc</text>
<text x="1164.7" y="2556.0" font-size="50" font-weight="bold">B</text>
<text x="1198.3" y="2436.1" font-size="48.5" font-weight="bold" letter-spacing="-2.81">abc</text>
<text x="1245.5" y="2513.8" font-size="50" font-weight="bold" letter-spacing="0.49">AB</text>
<text x="1301.0" y="2396.8" font-size="48.5" font-weight="bold" letter-spacing="-2.81">abc</text>
<text x="1359.4" y="2431.6" font-size="50" font-weight="bold" letter-spacing="0.49">AB</text>
<text x="1397.9" y="2554.1" font-size="48.5" font-weight="bold" letter-spacing="-3.80">bcd</text>
<text x="1468.7" y="2573.6" font-size="50" font-weight="bold">B</text>
<text x="333.3" y="3283.8" font-size="53" font-weight="bold" letter-spacing="-2.70">0</text>
<text x="607.0" y="3283.8" font-size="53" font-weight="bold" letter-spacing="-2.70">0.01</text>
<text x="708.1" y="3283.8" font-size="53" font-weight="bold" letter-spacing="-2.70">0.02</text>
<text x="809.3" y="3283.8" font-size="53" font-weight="bold" letter-spacing="-2.70">0.05</text>
<text x="922.4" y="3283.8" font-size="53" font-weight="bold" letter-spacing="-2.70">0.1</text>
<text x="1023.6" y="3283.8" font-size="53" font-weight="bold" letter-spacing="-2.70">0.2</text>
<text x="1124.8" y="3283.8" font-size="53" font-weight="bold" letter-spacing="-2.70">0.5</text>
<text x="1242.6" y="3283.8" font-size="53" font-weight="bold" letter-spacing="-2.70">1</text>
<text x="1326.2" y="3283.8" font-size="53" font-weight="bold" letter-spacing="-2.70">1.5</text>
<text x="1445.5" y="3283.8" font-size="53" font-weight="bold" letter-spacing="-2.70">2</text>
<text transform="translate(373.5,3305.5) rotate(-25.5)" x="-2.0" y="0" font-size="53" font-weight="bold" letter-spacing="-3.00">0.0025</text>
<text transform="translate(500.0,3294.0) rotate(-13)" x="-2.0" y="0" font-size="53" font-weight="bold" letter-spacing="-3.00">0.005</text>
</svg>
</body></html>
